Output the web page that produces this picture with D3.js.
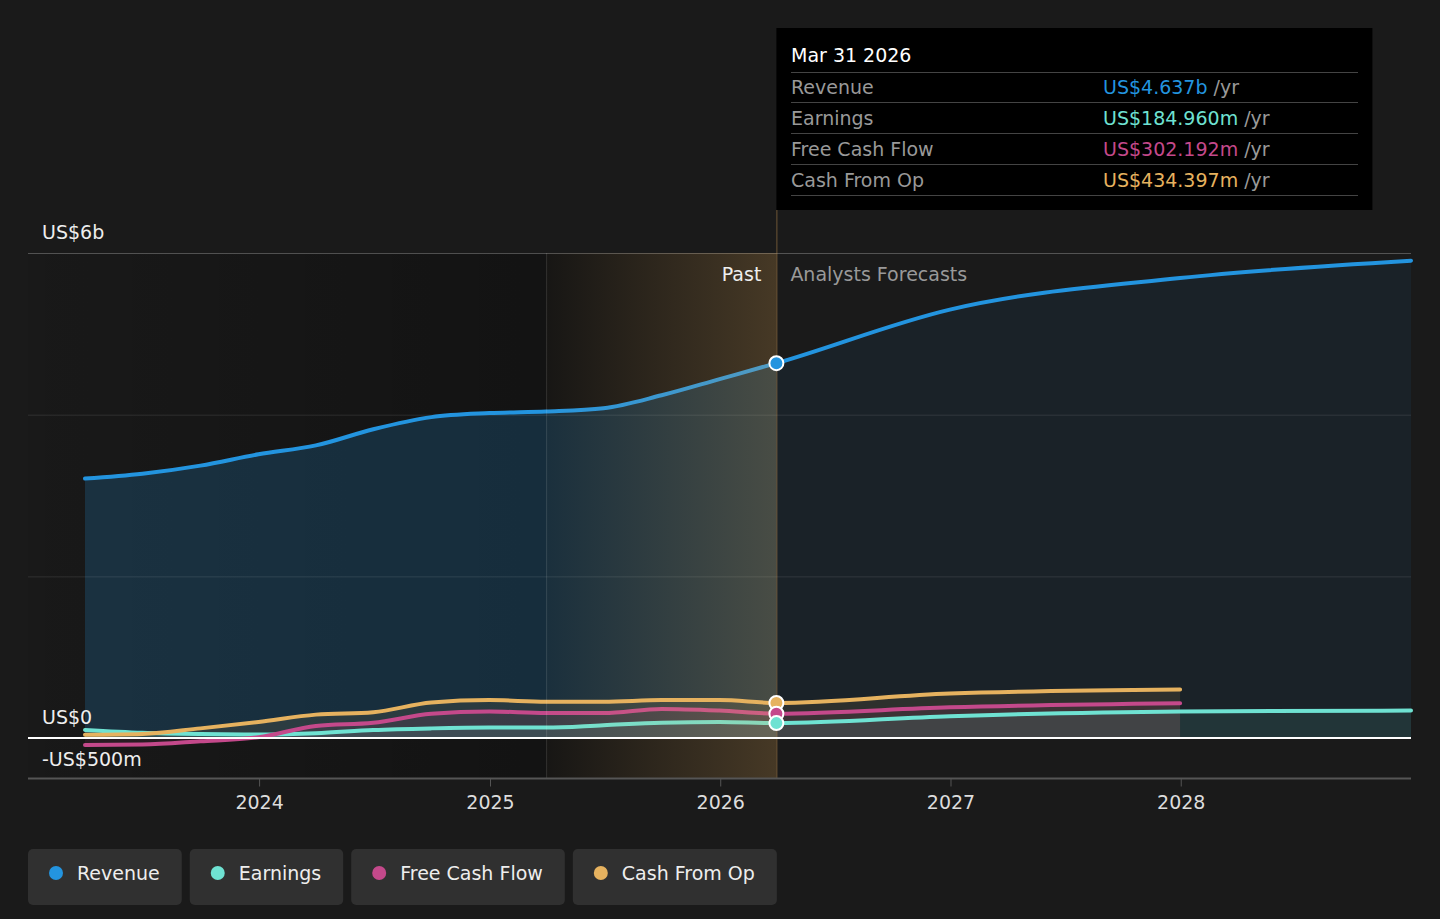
<!DOCTYPE html>
<html>
<head>
<meta charset="utf-8">
<script src="https://cdn.jsdelivr.net/npm/d3@7"></script>
<style>
  html, body { margin: 0; padding: 0; background: #1a1a1a; }
  svg { display: block; font-family: "DejaVu Sans", sans-serif; }
</style>
</head>
<body>
<div id="chart"></div>
<script>
// Data (US$ billions) ///////////////////////////////////////
var pastDates = ["2023-03-31", "2023-06-30", "2023-09-30", "2023-12-31",
                 "2024-03-31", "2024-06-30", "2024-09-30", "2024-12-31",
                 "2025-03-31", "2025-06-30", "2025-09-30", "2025-12-31",
                 "2026-03-31"];
var longForecastDates = ["2026-12-31", "2027-12-31", "2028-12-31"];
var shortForecastDates = ["2026-12-31", "2027-12-31"];

var revenuePast = [3.21, 3.27, 3.37, 3.51, 3.62, 3.82, 3.97, 4.02, 4.04, 4.08, 4.24, 4.44, 4.637];
var revenueForecast = [5.30, 5.69, 5.905];
var earningsPast = [0.10, 0.065, 0.05, 0.045, 0.06, 0.10, 0.12, 0.13, 0.13, 0.16, 0.19, 0.20, 0.185];
var earningsForecast = [0.27, 0.33, 0.34];
var fcfPast = [-0.085, -0.08, -0.04, 0.01, 0.15, 0.19, 0.30, 0.33, 0.31, 0.31, 0.36, 0.34, 0.302];
var fcfForecast = [0.38, 0.43];
var cfoPast = [0.04, 0.05, 0.12, 0.20, 0.29, 0.32, 0.44, 0.47, 0.45, 0.45, 0.47, 0.47, 0.434];
var cfoForecast = [0.55, 0.60];

var seriesNames = ["Revenue", "Earnings", "Free Cash Flow", "Cash From Op"];
var seriesColors = ["#2394df", "#6fe2d2", "#c4498b", "#e6b25f"];

var yTicks = [6, 0, -0.5];
var yTickLabels = ["US$6b", "US$0", "-US$500m"];
var gridValues = [4, 2];

var tooltipDate = "Mar 31 2026";
var tooltipValues = ["US$4.637b", "US$184.960m", "US$302.192m", "US$434.397m"];

var startDate = "2023-03-31", endDate = "2028-12-31", todayDate = "2026-03-31", lastYearDate = "2025-03-31";

// Setup ///////////////////////////////////////
var parse = d3.timeParse("%Y-%m-%d");
var W = 1440, H = 919;
var chartLeft = 28, plotLeft = 85, plotRight = 1411, plotTop = 253, plotBottom = 778.5;

function build(past, fDates, fVals) {
    var pts = past.map(function(v, i) { return {date: parse(pastDates[i]), value: v}; });
    fVals.forEach(function(v, i) { pts.push({date: parse(fDates[i]), value: v}); });
    return pts;
}

var series = [
    build(revenuePast, longForecastDates, revenueForecast),
    build(earningsPast, longForecastDates, earningsForecast),
    build(fcfPast, shortForecastDates, fcfForecast),
    build(cfoPast, shortForecastDates, cfoForecast)
];

var xScale = d3.scaleTime()
    .domain([parse(startDate), parse(endDate)])
    .range([plotLeft, plotRight]);

var yScale = d3.scaleLinear()
    .domain([-0.5, 6])
    .range([plotBottom, plotTop]);

var xToday = xScale(parse(todayDate));
var xLastYear = xScale(parse(lastYearDate));

var svg = d3.select("#chart").append("svg")
    .attr("width", W).attr("height", H);

var defs = svg.append("defs");

var pastGrad = defs.append("linearGradient").attr("id", "pastGrad")
    .attr("gradientUnits", "userSpaceOnUse")
    .attr("x1", chartLeft).attr("x2", xToday).attr("y1", 0).attr("y2", 0);
pastGrad.append("stop").attr("offset", 0).attr("stop-color", "#000").attr("stop-opacity", 0.05);
pastGrad.append("stop").attr("offset", (xLastYear - chartLeft) / (xToday - chartLeft)).attr("stop-color", "#000").attr("stop-opacity", 0.28);
pastGrad.append("stop").attr("offset", 1).attr("stop-color", "#000").attr("stop-opacity", 0.28);

var goldGrad = defs.append("linearGradient").attr("id", "goldGrad")
    .attr("x1", 0).attr("x2", 1).attr("y1", 0).attr("y2", 0);
goldGrad.append("stop").attr("offset", 0).attr("stop-color", "#e8b060").attr("stop-opacity", 0.02);
goldGrad.append("stop").attr("offset", 1).attr("stop-color", "#e8b060").attr("stop-opacity", 0.24);

defs.append("clipPath").attr("id", "clipPast").append("rect")
    .attr("x", 0).attr("y", 0).attr("width", xToday).attr("height", H);
defs.append("clipPath").attr("id", "clipFuture").append("rect")
    .attr("x", xToday).attr("y", 0).attr("width", W - xToday).attr("height", H);

// Past background
svg.append("rect")
    .attr("x", chartLeft).attr("y", plotTop)
    .attr("width", xToday - chartLeft).attr("height", plotBottom - plotTop)
    .attr("fill", "url(#pastGrad)");

// Revenue area
var areaGen = d3.area()
    .curve(d3.curveMonotoneX)
    .x(function(d) { return xScale(d.date); })
    .y0(yScale(0))
    .y1(function(d) { return yScale(d.value); });

svg.append("path").datum(series[0])
    .attr("clip-path", "url(#clipPast)")
    .attr("d", areaGen)
    .attr("fill", seriesColors[0]).attr("fill-opacity", 0.2);
svg.append("path").datum(series[0])
    .attr("clip-path", "url(#clipFuture)")
    .attr("d", areaGen)
    .attr("fill", seriesColors[0]).attr("fill-opacity", 0.07);

// Gridlines
svg.selectAll(".grid").data(gridValues).enter().append("line")
    .attr("class", "grid")
    .attr("x1", chartLeft).attr("x2", plotRight)
    .attr("y1", function(d) { return yScale(d) + 0.5; })
    .attr("y2", function(d) { return yScale(d) + 0.5; })
    .attr("stroke", "#fff").attr("stroke-opacity", 0.1);

svg.append("line")
    .attr("x1", chartLeft).attr("x2", plotRight)
    .attr("y1", yScale(6) + 0.5).attr("y2", yScale(6) + 0.5)
    .attr("stroke", "#fff").attr("stroke-opacity", 0.25);

// Small series areas
[3, 2, 1].forEach(function(i) {
    svg.append("path").datum(series[i])
        .attr("d", areaGen)
        .attr("fill", seriesColors[i]).attr("fill-opacity", 0.1);
});

// Lines
var lineGen = d3.line()
    .curve(d3.curveMonotoneX)
    .x(function(d) { return xScale(d.date); })
    .y(function(d) { return yScale(d.value); });

[0, 1, 2, 3].forEach(function(i) {
    svg.append("path").datum(series[i])
        .attr("d", lineGen)
        .attr("fill", "none")
        .attr("stroke", seriesColors[i])
        .attr("stroke-width", 4)
        .attr("stroke-linecap", "round");
});

// Last-year highlight
svg.append("rect")
    .attr("x", xLastYear).attr("y", plotTop)
    .attr("width", xToday - xLastYear).attr("height", plotBottom - plotTop)
    .attr("fill", "url(#goldGrad)");

svg.append("line")
    .attr("x1", xLastYear + 0.5).attr("x2", xLastYear + 0.5)
    .attr("y1", plotTop).attr("y2", plotBottom)
    .attr("stroke", "#fff").attr("stroke-opacity", 0.12);

svg.append("line")
    .attr("x1", xToday + 0.5).attr("x2", xToday + 0.5)
    .attr("y1", 210).attr("y2", plotBottom)
    .attr("stroke", "#e8b060").attr("stroke-opacity", 0.4);

// Zero line
svg.append("line")
    .attr("x1", chartLeft).attr("x2", plotRight)
    .attr("y1", yScale(0)).attr("y2", yScale(0))
    .attr("stroke", "#fff").attr("stroke-width", 2);

// x axis
var xAxis = d3.axisBottom(xScale)
    .ticks(d3.timeYear.every(1))
    .tickFormat(d3.timeFormat("%Y"))
    .tickSize(8)
    .tickPadding(9);

var gx = svg.append("g")
    .attr("transform", "translate(0," + plotBottom + ")")
    .call(xAxis);
gx.select(".domain").remove();
gx.selectAll(".tick line").attr("stroke", "#555");
gx.selectAll(".tick text")
    .attr("fill", "#ddd")
    .style("font-size", "19px")
    .style("font-family", "DejaVu Sans, sans-serif");

svg.append("line")
    .attr("x1", chartLeft).attr("x2", plotRight)
    .attr("y1", plotBottom).attr("y2", plotBottom)
    .attr("stroke", "#555").attr("stroke-width", 2);

// y labels
svg.selectAll(".ylab").data(yTicks).enter().append("text")
    .attr("class", "ylab")
    .attr("x", 42)
    .attr("y", function(d, i) { return i === 2 ? yScale(d) - 13 : yScale(d) - 14; })
    .attr("fill", "#eee")
    .style("font-size", "19px")
    .text(function(d, i) { return yTickLabels[i]; });

// Past / forecast labels
svg.append("text")
    .attr("x", xToday - 15).attr("y", 281)
    .attr("text-anchor", "end")
    .attr("fill", "#eee").style("font-size", "19px")
    .text("Past");
svg.append("text")
    .attr("x", xToday + 14).attr("y", 281)
    .attr("fill", "#999").style("font-size", "19px")
    .text("Analysts Forecasts");

// Today markers
[0, 3, 2, 1].forEach(function(i) {
    var d = series[i][pastDates.length - 1];
    svg.append("circle")
        .attr("cx", xScale(d.date)).attr("cy", yScale(d.value))
        .attr("r", 7)
        .attr("fill", seriesColors[i])
        .attr("stroke", "#fff").attr("stroke-width", 2);
});

// Tooltip
var tip = svg.append("g");
tip.append("rect")
    .attr("x", xToday).attr("y", 28)
    .attr("width", 596).attr("height", 182)
    .attr("fill", "#000");
tip.append("text")
    .attr("x", 791).attr("y", 62)
    .attr("fill", "#fff").style("font-size", "19px")
    .text(tooltipDate);
var sepY = [72, 102, 133, 164, 195];
tip.selectAll(".sep").data(sepY).enter().append("line")
    .attr("x1", 791).attr("x2", 1358)
    .attr("y1", function(d) { return d + 0.5; })
    .attr("y2", function(d) { return d + 0.5; })
    .attr("stroke", "#444");
seriesNames.forEach(function(name, i) {
    var yy = (sepY[i] + sepY[i + 1]) / 2 + 7;
    tip.append("text")
        .attr("x", 791).attr("y", yy)
        .attr("fill", "#999").style("font-size", "19px")
        .text(name);
    var t = tip.append("text")
        .attr("x", 1103).attr("y", yy)
        .style("font-size", "19px");
    t.append("tspan").attr("fill", seriesColors[i]).text(tooltipValues[i]);
    t.append("tspan").attr("fill", "#999").text(" /yr");
});

// Legend
var lx = 28;
seriesNames.forEach(function(name, i) {
    var g = svg.append("g");
    var box = g.append("rect")
        .attr("x", lx).attr("y", 849)
        .attr("height", 56).attr("rx", 5)
        .attr("fill", "#303030");
    g.append("circle")
        .attr("cx", lx + 28).attr("cy", 873).attr("r", 7)
        .attr("fill", seriesColors[i]);
    var t = g.append("text")
        .attr("x", lx + 49).attr("y", 880)
        .attr("fill", "#eee").style("font-size", "19px")
        .text(name);
    var w = 49 + t.node().getComputedTextLength() + 22;
    box.attr("width", w);
    lx += w + 8;
});
</script>
</body>
</html>
